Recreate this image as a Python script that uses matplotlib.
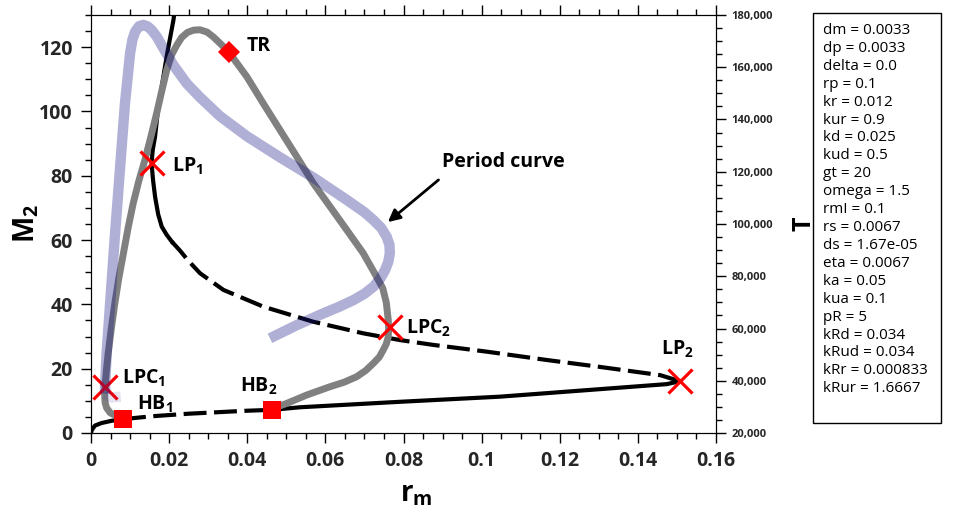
import matplotlib
matplotlib.use("Agg")
from matplotlib import pyplot as plt
from matplotlib.ticker import MultipleLocator, FuncFormatter
from matplotlib.patches import Rectangle

plt.rcParams['font.family'] = ['Open Sans', 'Noto Sans', 'DejaVu Sans']
plt.rcParams['mathtext.fontset'] = 'custom'
plt.rcParams['mathtext.rm'] = 'Open Sans'
plt.rcParams['mathtext.bf'] = 'Open Sans:bold'
plt.rcParams['mathtext.it'] = 'Open Sans:italic'

# equilibrium branch (r_m, M2), split by stability
eq_solid1_r = [0, 0.0002, 0.001, 0.0027, 0.0053, 0.0082]
eq_solid1_m = [0, 0.9, 2.3, 3.1, 3.8, 4.3]
eq_dash1_r = [0.0082, 0.0155, 0.025, 0.0394, 0.0463]
eq_dash1_m = [4.3, 5.2, 6.0, 6.9, 7.2]
eq_solid2_r = [0.0463, 0.0535, 0.079, 0.1047, 0.1474, 0.1508]
eq_solid2_m = [7.2, 8.0, 9.7, 11.3, 15.2, 16.1]
eq_dash2_r = [0.1508, 0.1457, 0.130, 0.1167, 0.1013, 0.0876, 0.0791, 0.0697, 0.0569,
              0.0441, 0.0339, 0.0279, 0.0249, 0.0228, 0.0207]
eq_dash2_m = [16.1, 18.0, 20.6, 22.7, 25.3, 27.4, 28.9, 31.0, 34.6,
              39.3, 44.5, 49.7, 53.6, 56.7, 59.5]
eq_solid3_r = [0.0207, 0.0194, 0.0181, 0.0172, 0.0164, 0.0159, 0.0155, 0.0158,
               0.0164, 0.0171, 0.0181, 0.0195, 0.0211, 0.0214]
eq_solid3_m = [59.5, 61.6, 64.2, 68.0, 73.5, 78.5, 83.9, 88.0,
               92.2, 100.0, 107.7, 118.0, 128.4, 131.0]

# limit cycle branch (max M2)
lc_r = [0.0082, 0.0062, 0.0049, 0.0040, 0.0036, 0.0035, 0.0036, 0.0039, 0.0044, 0.0052,
        0.0061, 0.0071, 0.0083, 0.0095, 0.0108, 0.0122, 0.0138, 0.0153, 0.0168, 0.0181,
        0.0194, 0.0206, 0.0219, 0.0232, 0.0247, 0.0263, 0.0279, 0.0297, 0.0313, 0.0332,
        0.0352, 0.0399, 0.0441, 0.0484, 0.0527, 0.0569, 0.0612, 0.0655, 0.0697, 0.0731,
        0.0747, 0.0756, 0.0761, 0.0762, 0.0761, 0.0756, 0.0748, 0.0738, 0.0723, 0.0703,
        0.0680, 0.0648, 0.0612, 0.0552, 0.0501, 0.0467]
lc_m = [4.5, 5.5, 6.3, 7.8, 9.5, 12.0, 14.4, 19.0, 24.8, 32.5,
        40.3, 48.0, 55.9, 63.8, 71.4, 78.2, 84.9, 92.0, 99.4, 106.3,
        112.9, 117.5, 120.5, 123.0, 124.6, 125.3, 125.4, 124.7, 123.2, 121.0,
        118.6, 110.8, 102.5, 94.2, 85.9, 77.7, 70.4, 63.1, 55.9, 48.6,
        45.0, 40.5, 35.1, 32.5, 29.9, 27.7, 25.8, 23.6, 21.7, 19.4,
        17.5, 15.8, 14.4, 11.8, 9.2, 7.7]

# period of the cycles (right axis)
per_r = [0.0036, 0.0036, 0.0040, 0.0049, 0.0061, 0.0074, 0.0087, 0.0100, 0.0106, 0.0113,
         0.0123, 0.0134, 0.0145, 0.0155, 0.0168, 0.0181, 0.0196, 0.0211, 0.0228, 0.0245,
         0.0279, 0.0330, 0.0399, 0.0484, 0.0569, 0.0655, 0.0700, 0.0723, 0.0743, 0.0757,
         0.0764, 0.0765, 0.0761, 0.0753, 0.0740, 0.0723, 0.0700, 0.0672, 0.0635, 0.0595,
         0.0527, 0.0458]
per_T = [35000, 37700, 50500, 69700, 95100, 120700, 146200, 165300, 170500, 173600,
         175700, 176200, 175600, 174300, 171800, 168400, 164600, 160800, 157300, 153800,
         148500, 141300, 133600, 125500, 117800, 109200, 104500, 101500, 98500, 95100,
         92000, 88800, 85500, 82400, 79000, 76000, 73300, 70900, 68300, 65800,
         61300, 56250]
per_tail_r = [0.0036, 0.0050, 0.0076]
per_tail_T = [35000, 33600, 33900]

# special points
lp_r = [0.0155, 0.1508]
lp_m = [83.9, 16.3]
lpc_r = [0.0037, 0.0765]
lpc_m = [14.4, 32.9]
hb_r = [0.0082, 0.0463]
hb_m = [4.35, 7.3]
tr_r = [0.0353]
tr_m = [118.5]

params = ["dm = 0.0033", "dp = 0.0033", "delta = 0.0", "rp = 0.1", "kr = 0.012",
          "kur = 0.9", "kd = 0.025", "kud = 0.5", "gt = 20", "omega = 1.5", "rmI = 0.1",
          "rs = 0.0067", "ds = 1.67e-05", "eta = 0.0067", "ka = 0.05", "kua = 0.1",
          "pR = 5", "kRd = 0.034", "kRud = 0.034", "kRr = 0.000833", "kRur = 1.6667"]

fig = plt.figure(figsize=(9.69, 5.15), dpi=100)
ax = fig.add_axes([91/969, 82/515, 625/969, 418/515])

blk_lw = 3.0
dash = (5.5, 1.8)
ax.plot(eq_solid1_r, eq_solid1_m, color='black', lw=blk_lw, solid_capstyle='butt')
ax.plot(eq_dash1_r, eq_dash1_m, color='black', lw=blk_lw, dashes=dash)
ax.plot(eq_solid2_r, eq_solid2_m, color='black', lw=blk_lw)
ax.plot(eq_dash2_r, eq_dash2_m, color='black', lw=blk_lw, dashes=dash)
ax.plot(eq_solid3_r, eq_solid3_m, color='black', lw=blk_lw, solid_joinstyle='round')
ax.plot(lc_r, lc_m, color='#808080', lw=5.0, solid_joinstyle='round')

ax.plot(lp_r, lp_m, 'x', color='red', ms=17, mew=2.3, zorder=5)
ax.plot(lpc_r, lpc_m, 'x', color='red', ms=17, mew=2.3, zorder=5)
ax.plot(hb_r, hb_m, 's', color='red', ms=12.5, mew=0, zorder=5)
ax.plot(tr_r, tr_m, 'D', color='red', ms=11, mew=0, zorder=5)

lab = dict(fontsize=14, fontweight='bold', va='center', ha='left')
ax.text(0.0399, 120.4, 'TR', **lab)
ax.text(0.0207, 83.0, r'$\mathbf{LP_1}$', **lab)
ax.text(0.0079, 17.0, r'$\mathbf{LPC_1}$', **lab)
ax.text(0.0118, 9.0, r'$\mathbf{HB_1}$', **lab)
ax.text(0.0381, 14.6, r'$\mathbf{HB_2}$', **lab)
ax.text(0.0806, 32.6, r'$\mathbf{LPC_2}$', **lab)
ax.text(0.1459, 26.0, r'$\mathbf{LP_2}$', **lab)
ax.annotate('Period curve', xy=(0.0760, 65.6), xytext=(0.0899, 84.3),
            fontsize=14, fontweight='bold', va='center', ha='left',
            arrowprops=dict(arrowstyle='-|>', color='black', lw=2, mutation_scale=18,
                            shrinkA=0, shrinkB=0, relpos=(-0.03, -0.4)))

ax.set_xlim(0, 0.16)
ax.set_ylim(0, 130)
ax.xaxis.set_major_locator(MultipleLocator(0.02))
ax.xaxis.set_minor_locator(MultipleLocator(0.005))
ax.yaxis.set_major_locator(MultipleLocator(20))
ax.yaxis.set_minor_locator(MultipleLocator(5))
ax.xaxis.set_major_formatter(FuncFormatter(lambda v, p: '{:g}'.format(round(v, 4))))
ax.tick_params(which='both', direction='out', top=True, right=False, width=1)
ax.tick_params(which='major', length=7, labelsize=14, pad=6, labelcolor='#262626')
ax.tick_params(which='minor', length=4)
for t in ax.get_xticklabels() + ax.get_yticklabels():
    t.set_fontweight('bold')
ax.set_xlabel(r'$\mathbf{r_m}$', fontsize=20)
ax.set_ylabel(r'$\mathbf{M_2}$', fontsize=20)
ax.xaxis.set_label_coords(0.52, -0.112)
ax.yaxis.set_label_coords(-0.08, 0.5)

ax2 = ax.twinx()
ax2.plot(per_r, per_T, color=(0.1, 0.1, 0.55), alpha=0.34, lw=7.5, solid_capstyle='butt',
         solid_joinstyle='round')
ax2.plot(per_tail_r, per_tail_T, color=(0.1, 0.1, 0.55), alpha=0.12, lw=7.5,
         solid_capstyle='butt')
ax2.set_ylim(20000, 180000)
ax2.yaxis.set_major_locator(MultipleLocator(20000))
ax2.yaxis.set_minor_locator(MultipleLocator(5000))
ax2.yaxis.set_major_formatter(FuncFormatter(lambda v, p: '{:,.0f}'.format(v)))
ax2.tick_params(which='both', direction='out', width=1)
ax2.tick_params(which='major', length=7, labelsize=8, pad=4, labelcolor='#262626')
ax2.tick_params(which='minor', length=4)
for t in ax2.get_yticklabels():
    t.set_fontweight('bold')
ax2.set_ylabel('T', fontsize=18, fontweight='bold')
ax2.yaxis.set_label_coords(1.12, 0.5)

fig.patches.append(Rectangle((813/969, 92/515), 128/969, 410/515, transform=fig.transFigure,
                             fill=False, edgecolor='black', lw=1))
fig.text(823/969, 1 - 23/515, '\n'.join(params), fontsize=11, va='top', ha='left',
         linespacing=1.265)

plt.savefig("out.png", dpi=100)
plt.close(fig)
